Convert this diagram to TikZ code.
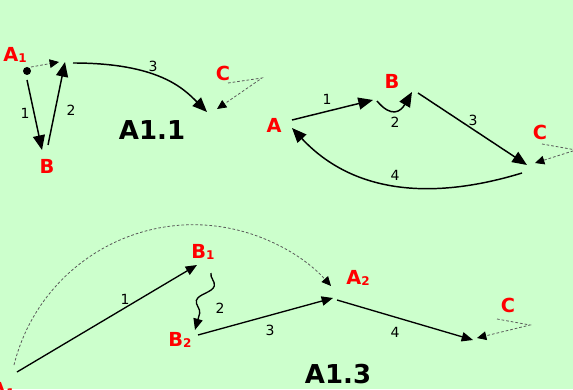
\documentclass[tikz,border=0pt]{standalone}
\usepackage{fontspec}
\setmainfont{DejaVu Sans}
\usetikzlibrary{arrows.meta,decorations.pathmorphing}
\definecolor{bggreen}{RGB}{204,255,204}
\newcommand{\sub}[1]{\raisebox{-0.8pt}{\fontsize{9}{9}\selectfont #1}}

\begin{document}
\begin{tikzpicture}[x=0.75pt, y=0.75pt,
    lbl/.style={text=red, inner sep=0pt, font=\bfseries\fontsize{14.5}{14.5}\selectfont},
    num/.style={inner sep=0pt, font=\fontsize{10.5}{10.5}\selectfont},
    ttl/.style={inner sep=0pt, font=\bfseries\fontsize{19.5}{19.5}\selectfont},
    arr/.style={line width=1.1pt, -{Triangle[length=11pt,width=9pt]}},
    arrs/.style={line width=1pt, -{Triangle[length=8.5pt,width=7pt]}},
    dots/.style={line width=0.6pt, black!65, dash pattern=on 2pt off 1.5pt,
        -{Triangle[length=7pt,width=6.5pt,color=black]}}]
    \useasboundingbox (0,0) rectangle (573,389);
    \fill[bggreen] (0,0) rectangle (573,389);
    \clip (0,0) rectangle (573,389);

    % A1.1
    \node[lbl] (a1) at (15,334) {A\sub{1}};
    \node[lbl] (b) at (47,223) {B};
    \node[lbl] (c) at (223,316) {C};
    \node[ttl] (t1) at (152,259) {A1.1};
    \coordinate (p0) at (27,318);
    \fill (p0) circle (4);
    \coordinate (d0) at (31,322);  \coordinate (d1) at (59,327);
    \coordinate (s1) at (27,309);  \coordinate (e1) at (42,239);
    \coordinate (s2) at (48,244);  \coordinate (e2) at (65,327);
    \coordinate (s3) at (73,326);  \coordinate (e3) at (207,277);
    \coordinate (cs) at (228,306); \coordinate (ca) at (262,311); \coordinate (ce) at (217,280);
    \draw[dots] (d0) -- (d1);
    \draw[arr] (s1) -- (e1);
    \draw[arr] (s2) -- (e2);
    \draw[arr] (s3) to[out=0, in=135, out distance=64pt, in distance=25pt] (e3);
    \draw[dots] (cs) -- (ca) -- (ce);
    \node[num] (n1) at (25,276) {1};
    \node[num] (n2) at (71,279) {2};
    \node[num] (n3) at (153,323) {3};

    % A1.2
    \node[lbl] (qa) at (274,264) {A};
    \node[lbl] (qb) at (392,308) {B};
    \node[lbl] (qc) at (540,257) {C};
    \coordinate (u1) at (292,269); \coordinate (v1) at (373,289);
    \coordinate (u2) at (377,288); \coordinate (v2) at (412,297);
    \coordinate (u3) at (418,296); \coordinate (v3) at (527,224);
    \coordinate (u4) at (522,216); \coordinate (v4) at (292,261);
    \coordinate (qs) at (542,245); \coordinate (qm) at (576,239); \coordinate (qe) at (535,226);
    \draw[arr] (u1) -- (v1);
    \draw[arr] (u2) to[out=-50, in=-120, looseness=1.6] (v2);
    \draw[arr] (u3) -- (v3);
    \draw[arr] (u4) to[out=197, in=-47] (v4);
    \draw[dots] (qs) -- (qm) -- (qe);
    \node[num] (m1) at (327,290) {1};
    \node[num] (m2) at (395,267) {2};
    \node[num] (m3) at (473,269) {3};
    \node[num] (m4) at (395,214) {4};

    % A1.3
    \node[lbl] (ra1) at (3,-1) {A\sub{1}};
    \node[lbl] (rb1) at (203,137) {B\sub{1}};
    \node[lbl] (rb2) at (180,49) {B\sub{2}};
    \node[lbl] (ra2) at (358,111) {A\sub{2}};
    \node[lbl] (rc) at (508,84) {C};
    \node[ttl] (t3) at (338,15) {A1.3};
    \coordinate (w1) at (17,17);   \coordinate (z1) at (197,124);
    \coordinate (w2) at (211,116); \coordinate (z2) at (195,59);
    \coordinate (w3) at (198,54);  \coordinate (z3) at (333,91);
    \coordinate (w4) at (337,89);  \coordinate (z4) at (473,49);
    \coordinate (ws) at (497,70);  \coordinate (wm) at (530,64); \coordinate (we) at (477,51);
    \coordinate (arc0) at (14,24);
    \draw[arrs] (w1) -- (z1);
    \draw[arrs, decorate, decoration={snake, amplitude=5pt, segment length=28pt, post length=8pt}] (w2) -- (z2);
    \draw[arrs] (w3) -- (z3);
    \draw[arrs] (w4) -- (z4);
    \draw[dots] (ws) -- (wm) -- (we);
    \draw[dots] (arc0) arc[start angle=166, end angle=42, radius=185];
    \node[num] (k1) at (125,90) {1};
    \node[num] (k2) at (220,81) {2};
    \node[num] (k3) at (270,59) {3};
    \node[num] (k4) at (395,57) {4};
\end{tikzpicture}
\end{document}
